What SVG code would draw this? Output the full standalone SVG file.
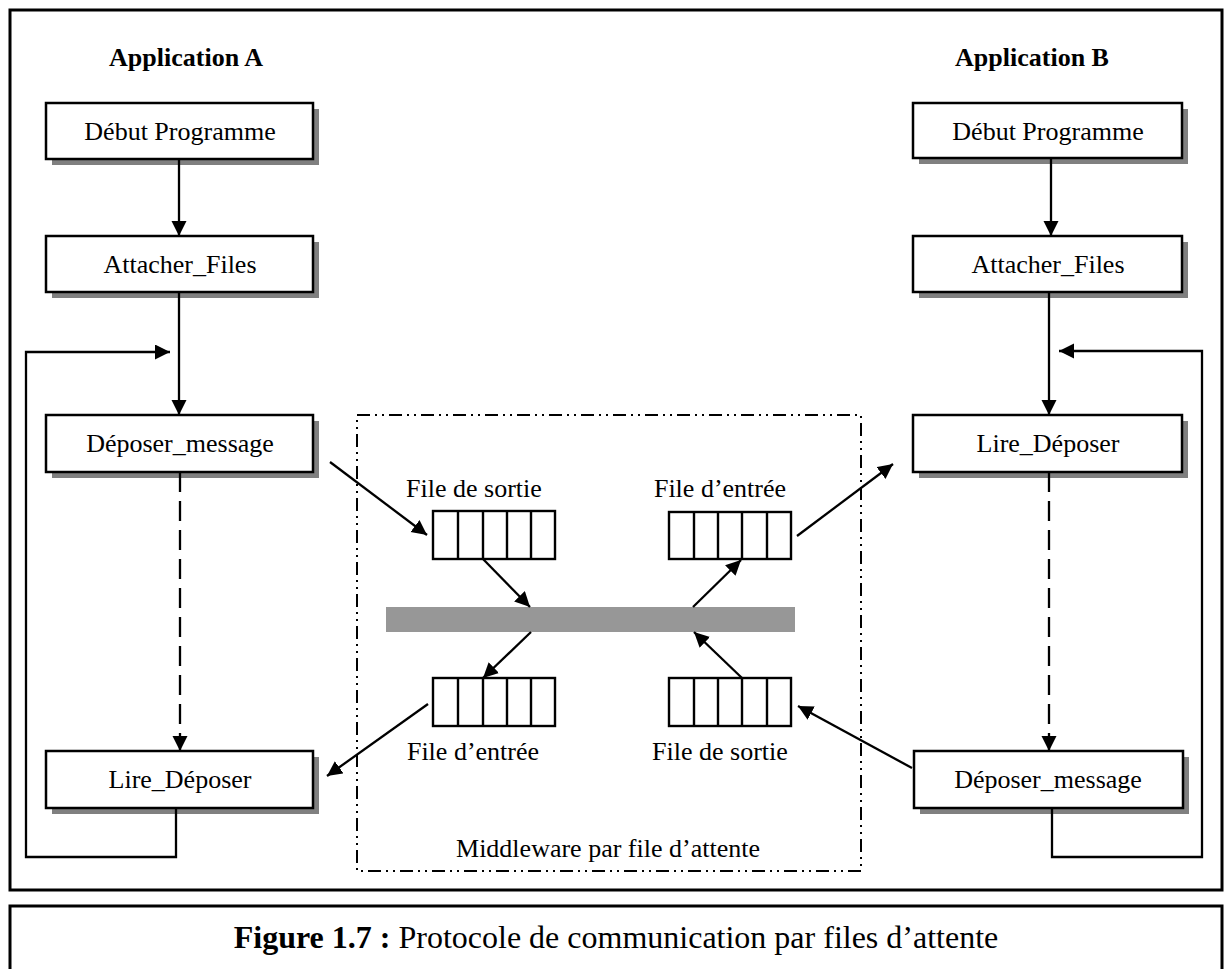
<svg xmlns="http://www.w3.org/2000/svg" width="1225" height="969" viewBox="0 0 1225 969">
  <defs>
    <style>
      .frame { fill: none; stroke: #000; stroke-width: 3; }
      .shadow { fill: #808080; stroke: none; }
      .box { fill: #fff; stroke: #000; stroke-width: 2.5; }
      .label { font-family: "Liberation Serif", "Times New Roman", serif; font-size: 26px; fill: #000; text-anchor: middle; }
      .title { font-family: "Liberation Serif", "Times New Roman", serif; font-size: 26px; font-weight: bold; fill: #000; text-anchor: middle; }
      .caption { font-family: "Liberation Serif", "Times New Roman", serif; font-size: 32px; fill: #000; text-anchor: middle; }
      .link { fill: none; stroke: #000; stroke-width: 2.3; }
      .dashed { stroke-dasharray: 20 9; }
      .mw { fill: none; stroke: #000; stroke-width: 2; stroke-dasharray: 13 5 2 5 2 5; }
      .cell { fill: #fff; stroke: #000; stroke-width: 2.4; }
      .bus { fill: #979797; stroke: none; }
    </style>
    <marker id="arrow" markerUnits="userSpaceOnUse" markerWidth="16" markerHeight="16" refX="15" refY="7.5" orient="auto">
      <path d="M0,0 L15,7.5 L0,15 z" fill="#000"/>
    </marker>
  </defs>

  <rect width="1225" height="969" fill="#fff"/>

  <!-- outer frames -->
  <rect class="frame" x="10" y="10" width="1212" height="880"/>
  <rect class="frame" x="10" y="906" width="1212" height="80"/>

  <!-- column titles -->
  <text class="title" x="186" y="66">Application A</text>
  <text class="title" x="1032" y="66">Application B</text>

  <!-- middleware region -->
  <g id="middleware">
    <rect class="mw" x="357" y="415" width="504" height="456"/>
    <text class="label" x="608" y="857">Middleware par file d’attente</text>
    <rect class="bus" x="386" y="607" width="409" height="25"/>
  </g>

  <!-- Application A nodes -->
  <g id="a-debut">
    <rect class="shadow" x="52" y="109" width="267" height="56"/>
    <rect class="box" x="46" y="103" width="267" height="56"/>
    <text class="label" x="180" y="140">Début Programme</text>
  </g>
  <g id="a-attacher">
    <rect class="shadow" x="52" y="242" width="267" height="56"/>
    <rect class="box" x="46" y="236" width="267" height="56"/>
    <text class="label" x="180" y="273">Attacher_Files</text>
  </g>
  <g id="a-deposer">
    <rect class="shadow" x="52" y="421" width="267" height="57"/>
    <rect class="box" x="46" y="415" width="267" height="57"/>
    <text class="label" x="180" y="452">Déposer_message</text>
  </g>
  <g id="a-lire">
    <rect class="shadow" x="52" y="757" width="267" height="57"/>
    <rect class="box" x="46" y="751" width="267" height="57"/>
    <text class="label" x="180" y="788">Lire_Déposer</text>
  </g>

  <!-- Application B nodes -->
  <g id="b-debut">
    <rect class="shadow" x="919" y="109" width="269" height="55"/>
    <rect class="box" x="913" y="103" width="269" height="55"/>
    <text class="label" x="1048" y="140">Début Programme</text>
  </g>
  <g id="b-attacher">
    <rect class="shadow" x="919" y="242" width="269" height="56"/>
    <rect class="box" x="913" y="236" width="269" height="56"/>
    <text class="label" x="1048" y="273">Attacher_Files</text>
  </g>
  <g id="b-lire">
    <rect class="shadow" x="919" y="421" width="269" height="57"/>
    <rect class="box" x="913" y="415" width="269" height="57"/>
    <text class="label" x="1048" y="452">Lire_Déposer</text>
  </g>
  <g id="b-deposer">
    <rect class="shadow" x="920" y="757" width="269" height="57"/>
    <rect class="box" x="914" y="751" width="269" height="57"/>
    <text class="label" x="1048" y="788">Déposer_message</text>
  </g>

  <!-- queues -->
  <g id="q-sortie-a">
    <text class="label" x="474" y="497">File de sortie</text>
    <rect class="cell" x="433" y="511" width="122" height="48"/>
    <path class="cell" d="M458,511 V559 M483,511 V559 M507,511 V559 M531,511 V559"/>
  </g>
  <g id="q-entree-b">
    <text class="label" x="720" y="497">File d’entrée</text>
    <rect class="cell" x="669" y="512" width="122" height="47"/>
    <path class="cell" d="M694,512 V559 M718,512 V559 M742,512 V559 M767,512 V559"/>
  </g>
  <g id="q-entree-a">
    <rect class="cell" x="433" y="678" width="122" height="48"/>
    <path class="cell" d="M458,678 V726 M483,678 V726 M507,678 V726 M531,678 V726"/>
    <text class="label" x="473" y="760">File d’entrée</text>
  </g>
  <g id="q-sortie-b">
    <rect class="cell" x="669" y="678" width="122" height="48"/>
    <path class="cell" d="M694,678 V726 M718,678 V726 M742,678 V726 M767,678 V726"/>
    <text class="label" x="720" y="760">File de sortie</text>
  </g>

  <!-- connectors -->
  <g id="connectors">
    <line class="link" x1="179" y1="159" x2="179" y2="236" marker-end="url(#arrow)"/>
    <line class="link" x1="179" y1="292" x2="179" y2="415" marker-end="url(#arrow)"/>
    <path class="link" d="M176,808 V857 H26 V352 H170" marker-end="url(#arrow)"/>
    <line class="link dashed" x1="180" y1="472" x2="180" y2="751" marker-end="url(#arrow)"/>

    <line class="link" x1="1051" y1="158" x2="1051" y2="236" marker-end="url(#arrow)"/>
    <line class="link" x1="1049" y1="292" x2="1049" y2="415" marker-end="url(#arrow)"/>
    <path class="link" d="M1052,808 V857 H1202 V351 H1059" marker-end="url(#arrow)"/>
    <line class="link dashed" x1="1049" y1="472" x2="1049" y2="751" marker-end="url(#arrow)"/>

    <line class="link" x1="330" y1="462" x2="427" y2="535" marker-end="url(#arrow)"/>
    <line class="link" x1="483" y1="559" x2="530" y2="607" marker-end="url(#arrow)"/>
    <line class="link" x1="693" y1="607" x2="741" y2="560" marker-end="url(#arrow)"/>
    <line class="link" x1="797" y1="536" x2="893" y2="464" marker-end="url(#arrow)"/>
    <line class="link" x1="531" y1="632" x2="483" y2="678" marker-end="url(#arrow)"/>
    <line class="link" x1="742" y1="678" x2="694" y2="632" marker-end="url(#arrow)"/>
    <line class="link" x1="428" y1="704" x2="327" y2="776" marker-end="url(#arrow)"/>
    <line class="link" x1="912" y1="768" x2="798" y2="706" marker-end="url(#arrow)"/>
  </g>

  <!-- caption -->
  <text class="caption" x="616" y="948"><tspan font-weight="bold">Figure 1.7 :</tspan> Protocole de communication par files d’attente</text>
</svg>
